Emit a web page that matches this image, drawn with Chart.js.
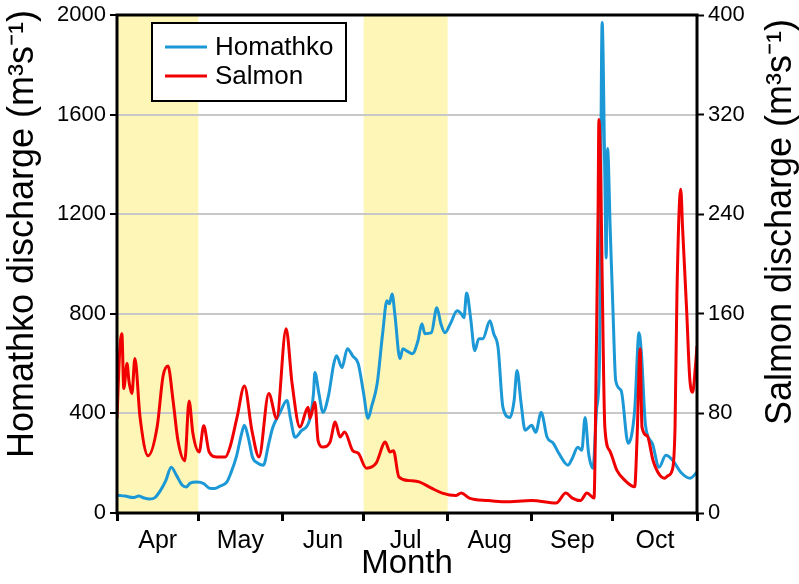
<!DOCTYPE html>
<html>
<head>
<meta charset="utf-8">
<title>Homathko and Salmon discharge</title>
<script src="https://cdn.jsdelivr.net/npm/chart.js@4.4.1/dist/chart.umd.min.js"></script>
<style>
  html, body { margin: 0; padding: 0; background: #fff; }
  #chartCanvas { display: block; }
</style>
</head>
<body>
<canvas id="chartCanvas" width="799" height="584"></canvas>
<script>
// months on the x axis (day 0 = 1 Apr)
const monthNames = ['Apr', 'May', 'Jun', 'Jul', 'Aug', 'Sep', 'Oct'];
const monthStartDays = [0, 30, 61, 91, 122, 153, 183, 214];
const shadedMonths = ['Apr', 'Jul'];

// tick labels
const homTicks = [0, 400, 800, 1200, 1600, 2000];
const salTicks = [0, 80, 160, 240, 320, 400];

// Homathko discharge (m3 s-1), left axis
const homDays = [0,3,6,8,10,12,14,16,18,20,22,24,25.5,27,29.5,32,34,36,38,40.5,42,44,46,47,48.5,50,52,54,56,57.5,60,62.7,64,65.7,68,71,72.5,73,74.5,76,78,80,81,83,85,87,89,91,92.6,94,96,98,99.6,100.5,101.5,102.5,104.4,105.5,107,109,111,112.5,113.6,116,118,119.5,121,123,125.5,127,128,129,130.5,132,133.5,135,137.6,139,140.6,142.4,145,146.5,147.6,149,150.6,153,154.5,156.5,158.7,161,163,166.4,168,170,171.5,172.7,174,175.6,177,178,179,180,180.5,181,182,183,184,186,188.6,191,192.6,193.5,195,197.5,200,202.5,205,208,211.5,214];
const homQ = [72,68,62,68,60,56,62,90,130,184,150,112,104,120,124,118,100,98,108,124,160,224,320,352,300,224,200,192,280,344,400,452,380,304,330,372,480,564,480,404,470,600,632,584,660,630,600,480,380,430,520,720,852,840,880,800,620,660,650,640,690,760,720,724,824,760,724,760,812,800,784,884,780,652,700,700,772,720,664,424,384,450,572,450,332,352,324,404,304,280,240,192,220,264,252,384,240,180,420,600,1970,1344,1024,1464,1132,812,532,492,280,412,724,640,352,280,184,232,212,164,140,164];

// Salmon discharge (m3 s-1), right axis
const salDays = [0,1,1.8,2.5,3.7,4.4,5.5,6.6,8.5,11.5,14.8,17,18.8,20.7,22.5,25,26.6,28,30.3,32,34,36.9,40,41.7,44.3,47,49.8,52.4,56,58.9,62.4,64.6,67.5,70.5,71.2,73,74.2,76,78.6,80.5,82.3,84,87,89,92,95.6,99,100.7,102,104,108,111.5,116,120,125,127,130,137,143,153,162,165.6,168,171,173.4,176,176.9,177.5,177.8,178.5,179,180,181.8,184.5,187.5,191,191.9,193,193.7,195.6,197.8,200.4,202.2,203.3,204.8,205.9,206.6,208,208.7,210.2,211.3,212.4,213.5,214];
const salQ = [76,130,144,100,120,106,96,124,77,46,69,110,118,90,58,42,90,64,49,70,49,45,45,53,77,102,66,45,96,76,148,104,69,85,76,89,58,53,57,73,61,65,50,48,36,40,57,49,50,29,26,25,20,16,14,16,12,10,9,10,8,16,12,10,16,12,136,242,316,268,191,69,50,34,26,21,61,132,69,62,42,30,28,30,34,69,176,260,228,162,109,97,120,134];

const FONT = "'Liberation Sans', Arial, sans-serif";
const BLUE = '#1b98d5';
const RED = '#f00000';

// yellow bands behind the grid
const shadePlugin = {
  id: 'shade',
  beforeDraw(chart) {
    const { ctx, chartArea: a, scales: { x } } = chart;
    ctx.save();
    ctx.fillStyle = '#fdf6b6';
    shadedMonths.forEach(m => {
      const i = monthNames.indexOf(m);
      const x0 = x.getPixelForValue(monthStartDays[i]);
      const x1 = x.getPixelForValue(monthStartDays[i + 1]);
      ctx.fillRect(x0, a.top, x1 - x0, a.bottom - a.top);
    });
    ctx.restore();
  }
};

// frame, rotated axis titles and boxed legend
const decorPlugin = {
  id: 'decor',
  afterDraw(chart) {
    const { ctx, chartArea: a } = chart;
    ctx.save();
    ctx.strokeStyle = '#000';
    ctx.lineWidth = 3;
    ctx.strokeRect(a.left, a.top, a.right - a.left, a.bottom - a.top);

    ctx.fillStyle = '#000';
    ctx.font = '36px ' + FONT;
    ctx.textAlign = 'center';
    ctx.textBaseline = 'middle';
    [['Homathko discharge (m³s⁻¹)', 23, 234], ['Salmon discharge (m³s⁻¹)', 781, 222]].forEach(([t, x, y]) => {
      ctx.save();
      ctx.translate(x, y);
      ctx.rotate(-Math.PI / 2);
      ctx.fillText(t, 0, 0);
      ctx.restore();
    });

    // legend
    const lx = 152, ly = 23, lw = 194, lh = 78;
    ctx.fillStyle = '#fff';
    ctx.fillRect(lx, ly, lw, lh);
    ctx.lineWidth = 2;
    ctx.strokeRect(lx, ly, lw, lh);
    ctx.font = '26px ' + FONT;
    ctx.textAlign = 'left';
    chart.data.datasets.forEach((ds, i) => {
      const y = ly + 24 + i * 29;
      ctx.strokeStyle = ds.borderColor;
      ctx.lineWidth = 3;
      ctx.beginPath();
      ctx.moveTo(lx + 13, y);
      ctx.lineTo(lx + 55, y);
      ctx.stroke();
      ctx.fillStyle = '#000';
      ctx.fillText(ds.label, lx + 63, y + 1);
    });
    ctx.restore();
  }
};

const ctx = document.getElementById('chartCanvas').getContext('2d');
new Chart(ctx, {
  type: 'line',
  data: {
    datasets: [
      {
        label: 'Homathko',
        data: homDays.map((d, i) => ({ x: d, y: homQ[i] })),
        borderColor: BLUE,
        borderWidth: 3,
        pointRadius: 0,
        cubicInterpolationMode: 'monotone',
        yAxisID: 'y',
        order: 1
      },
      {
        label: 'Salmon',
        data: salDays.map((d, i) => ({ x: d, y: salQ[i] })),
        borderColor: RED,
        borderWidth: 3,
        pointRadius: 0,
        cubicInterpolationMode: 'monotone',
        yAxisID: 'y2',
        order: 0
      }
    ]
  },
  options: {
    responsive: false,
    animation: false,
    layout: { padding: { top: 12, left: 0, right: 0, bottom: 0 } },
    plugins: { legend: { display: false }, tooltip: { enabled: false } },
    scales: {
      x: {
        type: 'linear',
        min: 0,
        max: 214,
        afterFit: s => { s.height = 71; },
        afterBuildTicks: s => {
          const t = [];
          monthNames.forEach((m, i) => {
            t.push({ value: monthStartDays[i] });
            t.push({ value: (monthStartDays[i] + monthStartDays[i + 1]) / 2 });
          });
          t.push({ value: monthStartDays[monthStartDays.length - 1] });
          s.ticks = t;
        },
        border: { display: false },
        grid: {
          drawOnChartArea: false,
          tickLength: 8,
          tickWidth: 3,
          tickColor: c => (c.index % 2 === 0 ? '#000' : 'rgba(0,0,0,0)')
        },
        ticks: {
          autoSkip: false,
          maxRotation: 0,
          padding: 5,
          color: '#000',
          font: { family: FONT, size: 25 },
          callback: (v, i) => (i % 2 === 1 ? monthNames[(i - 1) / 2] : '')
        },
        title: {
          display: true,
          text: 'Month',
          color: '#000',
          font: { family: FONT, size: 33 },
          padding: { top: 0, bottom: 0 }
        }
      },
      y: {
        position: 'left',
        min: 0,
        max: 2000,
        afterFit: s => { s.width = 117; },
        afterBuildTicks: s => { s.ticks = homTicks.map(v => ({ value: v })); },
        border: { display: false },
        grid: {
          color: c => (c.tick && (c.tick.value === 0 || c.tick.value === 2000) ? 'rgba(0,0,0,0)' : '#c8c8c8'),
          lineWidth: 2,
          tickLength: 7,
          tickWidth: 2,
          tickColor: '#000'
        },
        ticks: { color: '#000', padding: 4, font: { family: FONT, size: 22, lineHeight: 1 }, callback: v => String(v) }
      },
      y2: {
        position: 'right',
        min: 0,
        max: 400,
        afterFit: s => { s.width = 102; },
        afterBuildTicks: s => { s.ticks = salTicks.map(v => ({ value: v })); },
        border: { display: false },
        grid: { drawOnChartArea: false, tickLength: 7, tickWidth: 2, tickColor: '#000' },
        ticks: { color: '#000', padding: 4, font: { family: FONT, size: 22, lineHeight: 1 }, callback: v => String(v) }
      }
    }
  },
  plugins: [shadePlugin, decorPlugin]
});
</script>
</body>
</html>
